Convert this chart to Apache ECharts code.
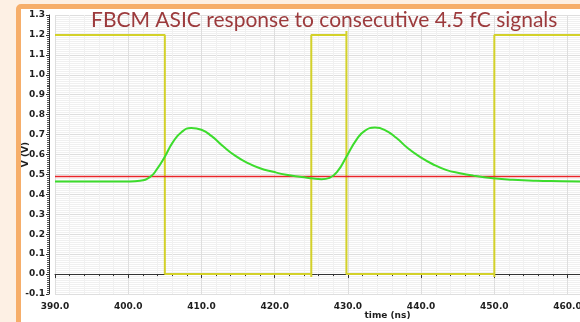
<!DOCTYPE html>
<html>
<head>
<meta charset="utf-8">
<script src="https://cdn.jsdelivr.net/npm/echarts@6/dist/echarts.min.js"></script>
<style>
    html, body { margin: 0; padding: 0; background: #fdf0e4; overflow: hidden; }
    #frame {
        position: absolute; left: 16px; top: 4px; width: 600px; height: 340px;
        border: 5px solid #f6ae6a; border-radius: 5px; background: #ffffff;
    }
    #main { position: absolute; left: 0; top: 0; width: 580px; height: 322px; }
</style>
</head>
<body>
<div id="frame"></div>
<div id="main"></div>
<script>
// input pulse (V) vs time (ns)
var pulseT = [390, 405, 405, 425, 425, 425, 429.8, 429.8, 429.8, 450, 450, 450, 461.7];
var pulseV = [1.2, 1.2, 0, 0, -0.015, 1.2, 1.2, 1.22, 0, 0, -0.015, 1.2, 1.2];

// ASIC output (V) vs time (ns)
var outT = [390, 395, 400, 401.6, 403.0, 403.9, 405.0, 406.1, 407.3, 408.6, 410.0, 411.4, 413.0, 414.6,
    416.2, 418.0, 419.8, 421.6, 423.4, 425.0, 426.4, 427.5, 428.6, 429.8, 431.2, 432.3, 433.7, 435.0,
    436.6, 438.2, 439.8, 441.6, 443.4, 445.3, 447.1, 449.8, 452.5, 455.7, 459.3, 461.7];
var outV = [0.464, 0.464, 0.465, 0.468, 0.488, 0.525, 0.589, 0.662, 0.713, 0.733, 0.724, 0.692, 0.640, 0.594,
    0.559, 0.531, 0.513, 0.498, 0.488, 0.481, 0.476, 0.483, 0.516, 0.589, 0.676, 0.719, 0.735, 0.724,
    0.684, 0.631, 0.589, 0.551, 0.523, 0.506, 0.494, 0.481, 0.473, 0.468, 0.466, 0.464];

// threshold level (V)
var threshT = [390, 461.7];
var threshV = [0.49, 0.49];

function pairs(t, v) {
    var d = [];
    for (var i = 0; i < t.length; i++) {
        d.push([t[i], v[i]]);
    }
    return d;
}

var chart = echarts.init(document.getElementById('main'));
var labelFont = {color: '#1e1e1e', fontSize: 9, fontWeight: 'bold', fontFamily: 'DejaVu Sans'};

chart.setOption({
    animation: false,
    title: {
        text: 'FBCM ASIC response to consecutive 4.5 fC signals',
        left: 86,
        top: 5,
        textStyle: {color: '#9c3a3c', fontSize: 21, fontWeight: 'normal', fontFamily: 'Lato'}
    },
    grid: {left: 55, right: 0, top: 15, bottom: 28, outerBoundsMode: 'none'},
    xAxis: {
        type: 'value',
        min: 390,
        max: 461.7,
        interval: 10,
        offset: 2,
        name: 'time (ns)',
        nameLocation: 'middle',
        nameGap: 15,
        nameMoveOverlap: false,
        nameTextStyle: Object.assign({padding: [0, 0, 0, 140]}, labelFont),
        axisLine: {show: true, lineStyle: {color: '#333', width: 1}},
        axisTick: {show: true, length: 4, lineStyle: {color: '#333'}},
        minorTick: {show: true, splitNumber: 5, length: 2, lineStyle: {color: '#333'}},
        axisLabel: Object.assign({margin: 6, showMaxLabel: false, formatter: function (v) { return v.toFixed(1); }}, labelFont),
        splitLine: {show: true, lineStyle: {color: '#dedede', width: 1}},
        minorSplitLine: {show: true, lineStyle: {color: '#f0f0f0', width: 1}}
    },
    yAxis: {
        type: 'value',
        min: -0.1,
        max: 1.3,
        interval: 0.1,
        offset: 6,
        name: 'V (V)',
        nameLocation: 'middle',
        nameRotate: 90,
        nameGap: 19,
        nameMoveOverlap: false,
        nameTextStyle: labelFont,
        axisLine: {show: true, lineStyle: {color: '#333', width: 1}},
        axisTick: {show: true, length: 3, lineStyle: {color: '#333'}},
        minorTick: {show: true, splitNumber: 10, length: 2, lineStyle: {color: '#555'}},
        axisLabel: Object.assign({margin: 4, formatter: function (v) { return v.toFixed(1); }}, labelFont),
        splitLine: {show: true, lineStyle: {color: '#dedede', width: 1}},
        minorSplitLine: {show: true, lineStyle: {color: '#f0f0f0', width: 1}}
    },
    series: [{
            name: 'pulse',
            type: 'line',
            showSymbol: false,
            data: pairs(pulseT, pulseV),
            lineStyle: {color: '#d3d12a', width: 2},
            z: 2
        }, {
            name: 'threshold',
            type: 'line',
            showSymbol: false,
            data: pairs(threshT, threshV),
            lineStyle: {color: '#e8262a', width: 1.5},
            z: 3
        }, {
            name: 'output',
            type: 'line',
            smooth: 0.5,
            showSymbol: false,
            data: pairs(outT, outV),
            lineStyle: {color: '#3cdc2c', width: 2},
            z: 4
        }]
});
</script>
</body>
</html>
